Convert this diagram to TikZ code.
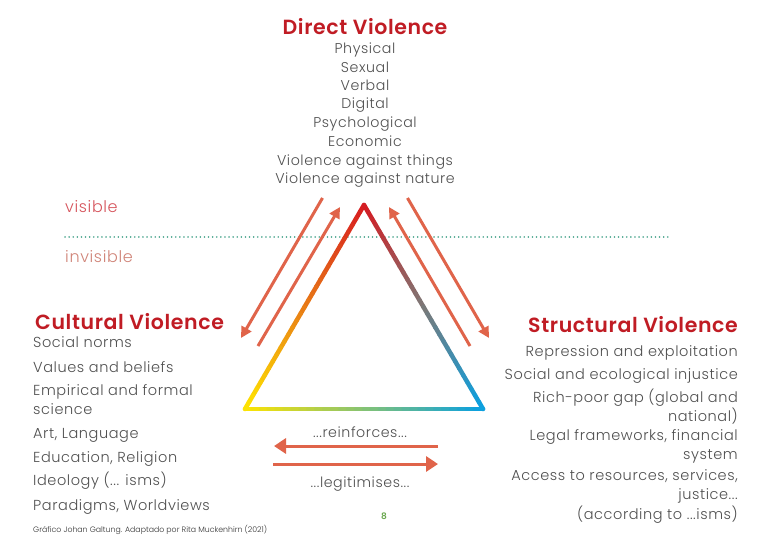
\documentclass[tikz,border=0pt]{standalone}
\usepackage{fontspec}
\IfFontExistsTF{Poppins Light}{%
  \setmainfont{Poppins Light}[BoldFont=Poppins SemiBold]%
  \newfontfamily\spacedf{Poppins Light}[LetterSpace=4]%
}{%
  \setmainfont{Poppins}%
  \newfontfamily\spacedf{Poppins}[LetterSpace=4]%
}
\newfontfamily\titlef{Poppins}[UprightFont=* SemiBold, LetterSpace=3]
\usetikzlibrary{arrows.meta,calc}
\definecolor{titlered}{RGB}{192,28,36}
\definecolor{bodygray}{RGB}{80,80,80}
\definecolor{arrowc}{RGB}{224,100,74}
\definecolor{dotc}{RGB}{80,168,145}
\definecolor{visc}{RGB}{214,84,92}
\definecolor{invisc}{RGB}{208,132,120}
\definecolor{pagegreen}{RGB}{106,168,79}
\definecolor{tr}{RGB}{215,25,32}
\definecolor{to}{RGB}{232,122,22}
\definecolor{ty}{RGB}{255,228,0}
\definecolor{tg}{RGB}{125,120,118}
\definecolor{tb}{RGB}{10,160,225}
\definecolor{tgr}{RGB}{135,195,115}
\newcommand\mydots{...}
\newcommand\gradedge[5]{%
  \foreach \gi in {1,...,30}{%
    \pgfmathsetmacro\gA{(\gi-1)/30}%
    \pgfmathsetmacro\gB{\gi/30}%
    \pgfmathtruncatemacro\gP{\gi<=15 ? 100-(\gi-0.5)/15*100 : 100-(\gi-15.5)/15*100}%
    \ifnum\gi<16 \colorlet{segc}{#3!\gP!#4}\else\colorlet{segc}{#4!\gP!#5}\fi
    \draw[segc, line width=4.5pt, line cap=round] ($(#1)!\gA!(#2)$) -- ($(#1)!\gB!(#2)$);
  }}
\tikzset{
  title/.style={font=\titlef\fontsize{20.5}{22}\selectfont, text=titlered, inner sep=0pt},
  item/.style={font=\spacedf\fontsize{14.2}{16}\selectfont, text=bodygray, inner sep=0pt},
  litem/.style={font=\spacedf\fontsize{14.5}{16}\selectfont, text=bodygray, inner sep=0pt, anchor=base west},
  ritem/.style={font=\spacedf\fontsize{14.5}{16}\selectfont, text=bodygray, inner sep=0pt, anchor=base east},
  farrow/.style={arrowc, line width=3pt, -{Triangle[length=11pt,width=11pt]}},
  barrow/.style={arrowc, line width=3pt, -{Triangle[length=12pt,width=15pt]}},
}
\begin{document}
\begin{tikzpicture}[x=1pt,y=-1pt]
\useasboundingbox[fill=white] (0,0) rectangle (768,543);
% Direct violence
\node[title, anchor=base] (dt) at (365,35) {Direct Violence};
\foreach \t/\y [count=\k] in {Physical/53,Sexual/72,Verbal/90,Digital/108,Psychological/127,Economic/146,Violence against things/165,Violence against nature/183}
  \node[item, anchor=base] (d\k) at (365,\y) {\t};
% visible / invisible
\node[font=\spacedf\fontsize{16}{18}\selectfont, text=visc, anchor=base west, inner sep=0pt] (vis) at (65,212) {visible};
\node[font=\spacedf\fontsize{16}{18}\selectfont, text=invisc, anchor=base west, inner sep=0pt] (invis) at (65,262) {invisible};
\coordinate (dl) at (65,237);
\coordinate (dr) at (668,237);
\draw[dotc, line width=1.6pt, dash pattern=on 0.1pt off 4pt, line cap=round] (dl) -- (dr);
% triangle
\coordinate (T) at (364,205);
\coordinate (L) at (245,409);
\coordinate (R) at (483,409);
\gradedge{T}{L}{tr}{to}{ty}
\gradedge{T}{R}{tr}{tg}{tb}
\gradedge{L}{R}{ty}{tgr}{tb}
% side arrows
\coordinate (a1s) at (322.5,198); \coordinate (a1e) at (241,338);
\coordinate (a2s) at (258,346);   \coordinate (a2e) at (340,207);
\coordinate (a3s) at (470,346);   \coordinate (a3e) at (389,207);
\coordinate (a4s) at (407.5,198); \coordinate (a4e) at (489,338);
\draw[farrow] (a1s) -- (a1e);
\draw[farrow] (a2s) -- (a2e);
\draw[farrow] (a3s) -- (a3e);
\draw[farrow] (a4s) -- (a4e);
% bottom arrows
\node[item, anchor=base] (reinf) at (360,437) {...reinforces...};
\node[item, anchor=base] (legit) at (360,487) {...legitimises...};
\coordinate (b1s) at (438,446); \coordinate (b1e) at (274,446);
\coordinate (b2s) at (273,464); \coordinate (b2e) at (438,464);
\draw[barrow] (b1s) -- (b1e);
\draw[barrow] (b2s) -- (b2e);
% Cultural
\node[title, anchor=base west] (ct) at (35,329) {Cultural Violence};
\foreach \t/\y [count=\k] in {Social norms/347,Values and beliefs/372,Empirical and formal/395,science/414,{Art, Language}/438,{Education, Religion}/462,{Ideology (\mydots{} isms)}/485,{Paradigms, Worldviews}/510}
  \node[litem] (c\k) at (33,\y) {\t};
% Structural
\node[title, anchor=base east] (st) at (738,332) {Structural Violence};
\foreach \t/\y [count=\k] in {Repression and exploitation/356,Social and ecological injustice/379,Rich-poor gap (global and/402,national)/421,{Legal frameworks, financial}/440,system/459,{Access to resources, services,}/480,{justice\mydots}/499,{(according to \mydots isms)}/519}
  \node[ritem] (s\k) at (738,\y) {\t};
% footer
\node[font=\fontsize{7.8}{9}\selectfont, text=black!80, anchor=base west, inner sep=0pt] (foot) at (33,532) {Gráfico Johan Galtung. Adaptado por Rita Muckenhirn (2021)};
\node[font=\bfseries\fontsize{9}{10}\selectfont, text=pagegreen, anchor=base, inner sep=0pt] (pg) at (384,519) {8};
\end{tikzpicture}
\end{document}
